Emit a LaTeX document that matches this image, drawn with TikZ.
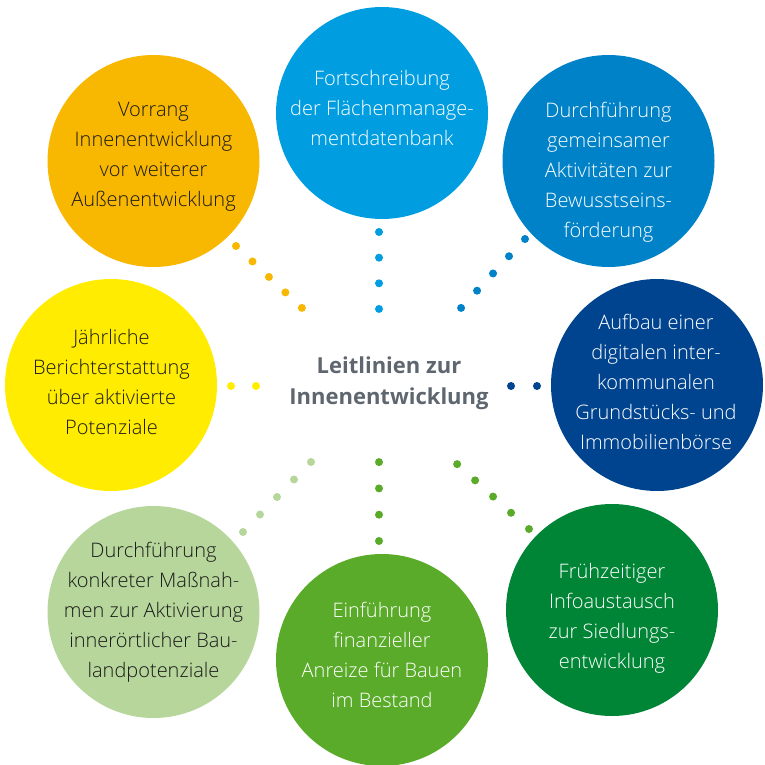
\documentclass[tikz,border=0pt]{standalone}
\usepackage{fontspec}
\setmainfont{Open Sans}
\IfFontExistsTF{Open Sans Light}
  {\newfontfamily\lightfont{Open Sans Light}}
  {\newfontfamily\lightfont{Open Sans}}
\definecolor{cOrange}{HTML}{F8B700}
\definecolor{cSky}{HTML}{009EE0}
\definecolor{cBlue}{HTML}{0082C8}
\definecolor{cNavy}{HTML}{00448F}
\definecolor{cForest}{HTML}{008536}
\definecolor{cLeaf}{HTML}{5AAB2A}
\definecolor{cPale}{HTML}{B7D69B}
\definecolor{cYellow}{HTML}{FFEC00}
\definecolor{cHub}{HTML}{5E6670}
\definecolor{cDark}{HTML}{1A1A1A}
\begin{document}
\begin{tikzpicture}[x=1pt,y=-1pt,
  bubble/.style={circle, fill=#1, minimum size=212pt, inner sep=0pt},
  caption/.style={align=center, font=\lightfont\fontsize{20}{30}\selectfont, text=#1},
  dotrow/.style 2 args={draw=#1, line width=8pt, line cap=round,
    dash pattern=on 0pt off #2, shorten >=-1pt}]
\useasboundingbox (0,0) rectangle (764,765);

% circles
\node[bubble=cOrange] (c1) at (153.5,161) {};
\node[bubble=cSky]    (c2) at (382,113) {};
\node[bubble=cBlue]   (c3) at (608.5,161) {};
\node[bubble=cNavy]   (c4) at (657,385) {};
\node[bubble=cForest] (c5) at (612,610) {};
\node[bubble=cLeaf]   (c6) at (382,660) {};
\node[bubble=cPale]   (c7) at (153.5,612) {};
\node[bubble=cYellow] (c8) at (111,385) {};

% circle texts
\node[caption=cDark] (t1) at (153.5,157) {Vorrang\\Innenentwicklung\\vor weiterer\\Außenentwicklung};
\node[caption=white] (t2) at (382,108) {Fortschreibung\\der Flächenmanage-\\mentdatenbank};
\node[caption=white] (t3) at (608.5,172) {Durchführung\\gemeinsamer\\Aktivitäten zur\\Bewusstseins-\\förderung};
\node[caption=white] (t4) at (656,382) {Aufbau einer\\digitalen inter-\\kommunalen\\Grundstücks- und\\Immobilienbörse};
\node[caption=white] (t5) at (612,618) {Frühzeitiger\\Infoaustausch\\zur Siedlungs-\\entwicklung};
\node[caption=white] (t6) at (382,655) {Einführung\\finanzieller\\Anreize für Bauen\\im Bestand};
\node[caption=cDark] (t7) at (153.5,612) {Durchführung\\konkreter Maßnah-\\men zur Aktivierung\\innerörtlicher Bau-\\landpotenziale};
\node[caption=cDark] (t8) at (111.5,382) {Jährliche\\Berichterstattung\\über aktivierte\\Potenziale};

% centre title
\node[align=center, text=cHub, font=\bfseries\fontsize{22}{31}\selectfont] (hub) at (389,383)
  {Leitlinien zur\\Innenentwicklung};

% dotted spokes
\coordinate (d1a) at (236,246); \coordinate (d1b) at (302,308);
\coordinate (d2a) at (379,232); \coordinate (d2b) at (379,309);
\coordinate (d3a) at (525,239); \coordinate (d3b) at (461,308);
\coordinate (d4a) at (537,386); \coordinate (d4b) at (511,386);
\coordinate (d5a) at (529,529); \coordinate (d5b) at (457,464);
\coordinate (d6a) at (379,541); \coordinate (d6b) at (379,462);
\coordinate (d7a) at (243,532); \coordinate (d7b) at (311,462);
\coordinate (d8a) at (231,386); \coordinate (d8b) at (256,386);

\draw[dotrow={cOrange}{22.6pt}] (d1a) -- (d1b);
\draw[dotrow={cSky}{25.65pt}]   (d2a) -- (d2b);
\draw[dotrow={cBlue}{23.5pt}]   (d3a) -- (d3b);
\draw[dotrow={cNavy}{26pt}]     (d4a) -- (d4b);
\draw[dotrow={cLeaf}{24.2pt}]   (d5a) -- (d5b);
\draw[dotrow={cLeaf}{26.3pt}]   (d6a) -- (d6b);
\draw[dotrow={cPale}{24.4pt}]   (d7a) -- (d7b);
\draw[dotrow={cYellow}{25pt}]   (d8a) -- (d8b);
\end{tikzpicture}
\end{document}
